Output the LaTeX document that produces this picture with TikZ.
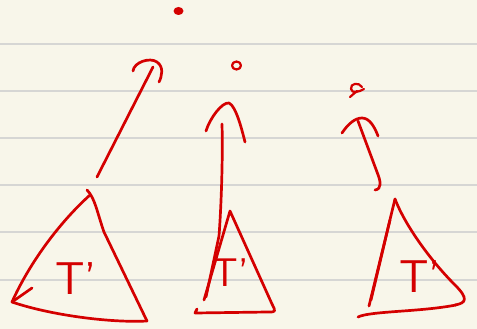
\documentclass[tikz,border=0pt]{standalone}
\usepackage{fontspec}
\definecolor{paper}{RGB}{248,246,234}
\definecolor{rulecol}{RGB}{214,214,212}
\definecolor{ink}{RGB}{212,0,0}
\begin{document}
\begin{tikzpicture}[x=1pt,y=-1pt,
  pen/.style={ink, line width=2.7pt, line cap=round, line join=round},
  lbl/.style={ink, font=\sffamily\fontsize{46}{46}\selectfont, inner sep=0pt},
  lblsmall/.style={lbl, font=\sffamily\fontsize{40}{40}\selectfont}]
\fill[paper] (0,0) rectangle (477,329);
\useasboundingbox (0,0) rectangle (477,329);
\foreach \y in {44,91,138,185,232,280} \draw[rulecol, line width=1.3pt] (0,\y) -- (477,\y);

% tree nodes drawn as marks
\fill[ink] (178.5,11) ellipse (5pt and 4pt);
\draw[pen, line width=2.2pt] (236.5,65.5) ellipse (4.5pt and 4pt);
\draw[pen, line width=2.2pt] (362,87) .. controls (359,82) and (350,83) .. (351,89)
   .. controls (352,94) and (359,92) .. (364,89);
\draw[pen, line width=2.2pt] (357,91) -- (350,97);

% arrow 1
\draw[pen] (97,177) -- (153,67);
\draw[pen] (133,71) .. controls (134,62) and (150,57) .. (157,62)
   .. controls (164,67) and (162,76) .. (159,82);

% arrow 2
\draw[pen] (206,131) .. controls (210,118) and (222,102) .. (229,103)
   .. controls (236,106) and (242,130) .. (245,142);
\draw[pen] (222,124) .. controls (223,160) and (221,210) .. (219,236) -- (206,297);

% arrow 3
\draw[pen] (342,133) .. controls (348,124) and (355,118) .. (362,118)
   .. controls (370,118) and (375,128) .. (378,136);
\draw[pen] (358,121) -- (377,172) .. controls (381,182) and (382,189) .. (375,190);

% triangle 1
\draw[pen] (90,195) .. controls (60,222) and (30,262) .. (12,302);
\draw[pen] (12,302) -- (32,288);
\draw[pen] (87,190) .. controls (95,198) and (97,212) .. (104,232) -- (147,321);
\draw[pen] (12,302) .. controls (50,315) and (110,323) .. (147,321);
\node[lbl] (t1) at (76,279) {T'};

% triangle 2
\draw[pen] (204,300) -- (230,211) -- (272,304) .. controls (276,312) .. (268,312)
   -- (195,313) -- (197,309);
\node[lblsmall] (t2) at (231,273) {T'};

% triangle 3
\draw[pen] (395,199) -- (369,306);
\draw[pen] (390,220) -- (371,300);
\draw[pen] (395,199) .. controls (405,225) and (430,260) .. (455,285)
   .. controls (468,298) and (467,303) .. (455,305);
\draw[pen] (358,317) .. controls (370,311) and (420,312) .. (456,305);
\node[lbl] (t3) at (420,277) {T'};
\end{tikzpicture}
\end{document}
